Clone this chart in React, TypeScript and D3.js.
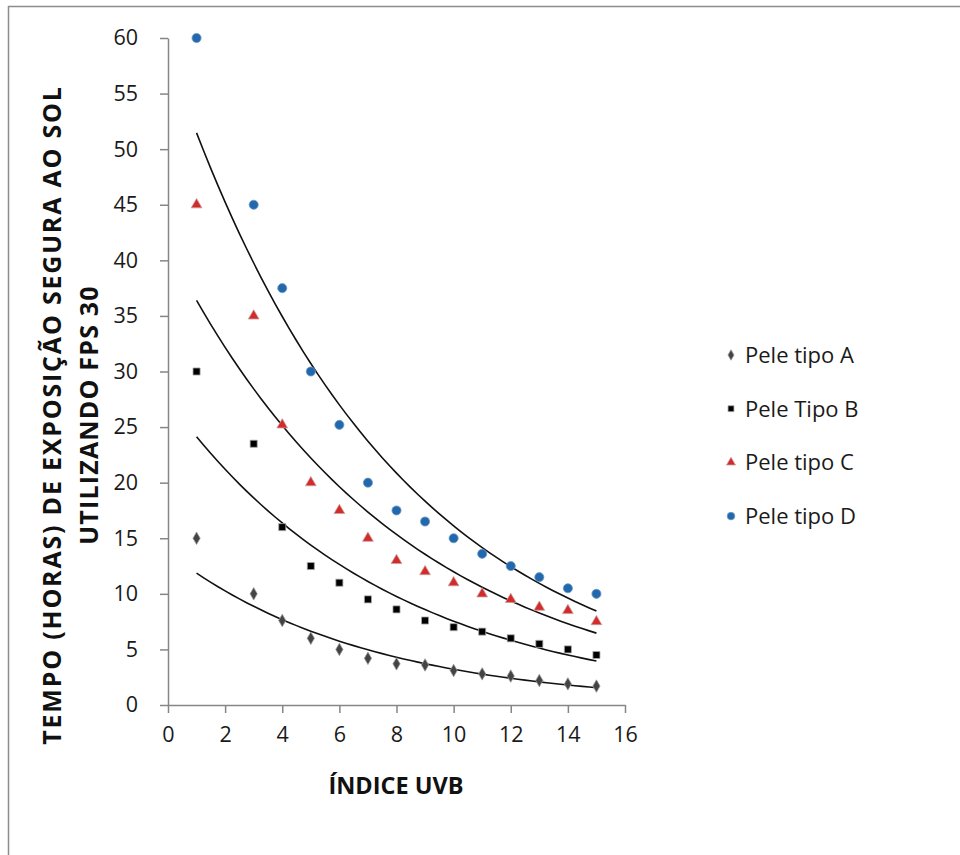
import { useRef, useEffect } from "react";
import * as d3 from "d3";

const uvIndex = [1, 3, 4, 5, 6, 7, 8, 9, 10, 11, 12, 13, 14, 15];
const peleA = [15, 10, 7.6, 6, 5, 4.2, 3.7, 3.6, 3.1, 2.8, 2.6, 2.2, 1.9, 1.7];
const peleB = [30, 23.5, 16, 12.5, 11, 9.5, 8.6, 7.6, 7, 6.6, 6, 5.5, 5, 4.5];
const peleC = [45, 35, 25.2, 20, 17.5, 15, 13, 12, 11, 10, 9.5, 8.8, 8.5, 7.5];
const peleD = [60, 45, 37.5, 30, 25.2, 20, 17.5, 16.5, 15, 13.6, 12.5, 11.5, 10.5, 10];
const seriesNames = ["Pele tipo A", "Pele Tipo B", "Pele tipo C", "Pele tipo D"];
const xTicks = [0, 2, 4, 6, 8, 10, 12, 14, 16];
const yTicks = [0, 5, 10, 15, 20, 25, 30, 35, 40, 45, 50, 55, 60];

// exponential trendline (least squares on ln y), like the spreadsheet does
function expFit(xs: number[], ys: number[]) {
  const ly = ys.map((v) => Math.log(v));
  const mx = d3.mean(xs)!;
  const my = d3.mean(ly)!;
  const sxy = d3.sum(xs, (x, i) => (x - mx) * (ly[i] - my));
  const sxx = d3.sum(xs, (x) => (x - mx) ** 2);
  const b = sxy / sxx;
  const a = my - b * mx;
  return (x: number) => Math.exp(a + b * x);
}

export default function App() {
  const ref = useRef<SVGSVGElement>(null);

  function init() {
    const settings = {
      width: 960,
      height: 855,
      left: 168,
      right: 625,
      top: 38,
      bottom: 705,
    };
    const font = "'Open Sans', sans-serif";

    const svg = d3.select(ref.current);
    svg.selectAll("*").remove();

    svg
      .append("rect")
      .attr("x", 8.5)
      .attr("y", 6.5)
      .attr("width", 1000)
      .attr("height", 1000)
      .attr("fill", "#fff")
      .attr("stroke", "#8c8c8c")
      .attr("stroke-width", 1.5);

    const x = d3.scaleLinear().domain([0, 16]).range([settings.left, settings.right]);
    const y = d3.scaleLinear().domain([0, 60]).range([settings.bottom, settings.top]);

    const xAxis = (g: any) =>
      g
        .attr("transform", `translate(0,${settings.bottom})`)
        .call(d3.axisBottom(x).tickValues(xTicks).tickSize(8).tickSizeOuter(0).tickPadding(14))
        .call((g: any) => g.selectAll("path, line").attr("stroke", "#868686").attr("stroke-width", 1.5))
        .call((g: any) =>
          g.selectAll("text").attr("fill", "#1a1a1a").attr("font-size", 21.5).attr("font-family", font)
        );

    const yAxis = (g: any) =>
      g
        .attr("transform", `translate(${settings.left},0)`)
        .call(d3.axisLeft(y).tickValues(yTicks).tickSize(8).tickSizeOuter(0).tickPadding(22))
        .call((g: any) => g.selectAll("path, line").attr("stroke", "#868686").attr("stroke-width", 1.5))
        .call((g: any) =>
          g.selectAll("text").attr("fill", "#1a1a1a").attr("font-size", 21.5).attr("font-family", font)
        );

    svg.append("g").call(xAxis);
    svg.append("g").call(yAxis);

    const all = [peleA, peleB, peleC, peleD];
    const colors = ["#444444", "#000000", "#d42a2a", "#2168ad"];
    const shapes = [d3.symbolDiamond, d3.symbolSquare, d3.symbolTriangle, d3.symbolCircle];
    const sizes = [45, 50, 50, 65];
    const strokes = ["#999", "#aaa", "#c9a0a0", "#6f98c4"];

    // trendlines
    all.forEach((vals) => {
      const f = expFit(uvIndex, vals);
      const pts = d3.range(1, 15.001, 0.25).map((v) => [v, f(v)] as [number, number]);
      svg
        .append("path")
        .attr("d", d3.line<[number, number]>().x((d) => x(d[0])).y((d) => y(d[1]))(pts))
        .attr("fill", "none")
        .attr("stroke", "#111")
        .attr("stroke-width", 1.6);
    });

    all.forEach((vals, si) => {
      svg
        .append("g")
        .selectAll("path")
        .data(vals)
        .join("path")
        .attr("transform", (d, i) => `translate(${x(uvIndex[i])},${y(d)})`)
        .attr("d", d3.symbol().type(shapes[si]).size(sizes[si])())
        .attr("fill", colors[si])
        .attr("stroke", strokes[si])
        .attr("stroke-width", 0.8);
    });

    // axis titles
    svg
      .append("text")
      .attr("x", 396)
      .attr("y", 794)
      .attr("text-anchor", "middle")
      .attr("font-family", font)
      .attr("font-weight", "bold")
      .attr("font-size", 23.5)
      .attr("fill", "#111")
      .text("ÍNDICE UVB");

    const yTitle = svg
      .append("text")
      .attr("transform", `translate(61,415) rotate(-90)`)
      .attr("text-anchor", "middle")
      .attr("font-family", font)
      .attr("font-weight", "bold")
      .attr("font-size", 25)
      .attr("fill", "#111");
    yTitle
      .append("tspan")
      .attr("x", 0)
      .attr("dy", 0)
      .attr("letter-spacing", 1.8)
      .text("TEMPO (HORAS) DE EXPOSIÇÃO SEGURA AO SOL");
    yTitle
      .append("tspan")
      .attr("x", 0)
      .attr("dy", 37)
      .attr("letter-spacing", 1.2)
      .text("UTILIZANDO FPS 30");

    // legend
    const legend = svg
      .append("g")
      .selectAll("g")
      .data(seriesNames)
      .join("g")
      .attr("transform", (d, i) => `translate(731,${355 + i * 53.7})`);
    legend
      .append("path")
      .attr("d", (d, i) => d3.symbol().type(shapes[i]).size(sizes[i] * 0.7)())
      .attr("fill", (d, i) => colors[i])
      .attr("stroke", (d, i) => strokes[i])
      .attr("stroke-width", 0.8);
    legend
      .append("text")
      .attr("x", 14)
      .attr("y", 8)
      .attr("font-family", font)
      .attr("font-size", 22)
      .attr("fill", "#1a1a1a")
      .text((d) => d);
  }

  useEffect(init, []);
  return (
    <svg
      ref={ref}
      width={960}
      height={855}
      style={{ position: "absolute", left: 0, top: 0, background: "#fff" }}
    ></svg>
  );
}
